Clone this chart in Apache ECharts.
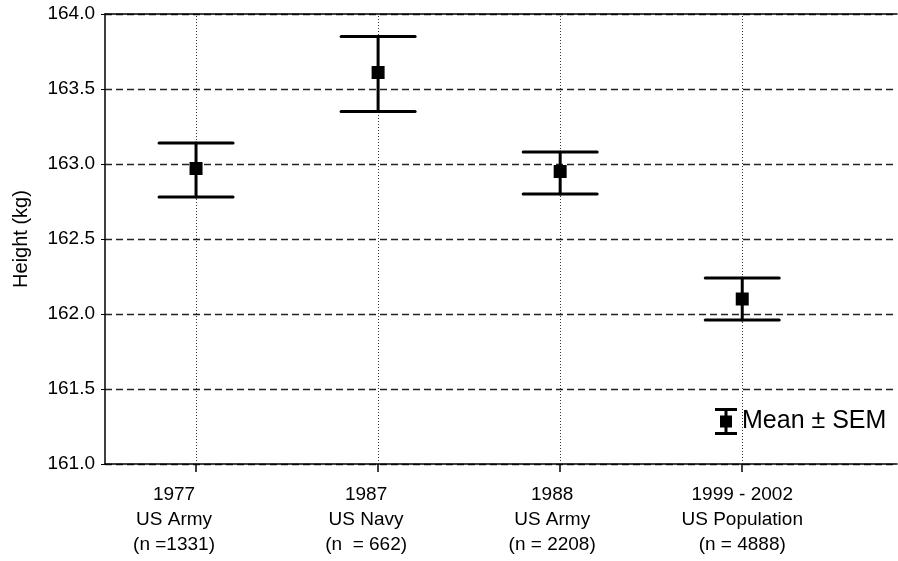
<!DOCTYPE html>
<html>
<head>
<meta charset="utf-8">
<script src="https://cdn.jsdelivr.net/npm/echarts@6/dist/echarts.min.js"></script>
<style>html,body{margin:0;padding:0;background:#fff;}#main{width:898px;height:561px;}</style>
</head>
<body>
<div id="main"></div>
<script>
var categories = ['1977\nUS Army\n(n =1331)', '1987\nUS Navy\n(n  = 662)', '1988\nUS Army\n(n = 2208)', '1999 - 2002\nUS Population\n(n = 4888)'];
var positions = [1, 2, 3, 4];
var means = [162.97, 163.61, 162.95, 162.10];
var upper = [163.14, 163.85, 163.08, 162.24];
var lower = [162.78, 163.35, 162.80, 161.96];

var FONT = '"Liberation Sans", Arial, sans-serif';
// styling: how far (px) each category label block sits left of its tick in the original
var labelShiftPx = [22, 12, 8, 0];

var chart = echarts.init(document.getElementById('main'), null, {renderer: 'canvas'});

var errData = positions.map(function (p, i) { return [p, lower[i], upper[i]]; });
var meanData = positions.map(function (p, i) { return [p, means[i]]; });

var rich = {};
labelShiftPx.forEach(function (s, i) {
  rich['r' + i] = {fontFamily: FONT, fontSize: 19, lineHeight: 25, color: '#000', padding: [0, 2 * s, 0, 0]};
});

var option = {
  backgroundColor: '#fff',
  animation: false,
  grid: {left: 105, right: 1, top: 14, bottom: 97},
  legend: {
    left: 710, top: 403,
    itemWidth: 22, itemHeight: 27, itemGap: 10,
    textStyle: {fontFamily: FONT, fontSize: 25, color: '#000'},
    data: [{name: 'Mean \u00b1 SEM', icon: 'path://M0,0H22V3H0Z M9.5,0H12.5V27H9.5Z M0,24H22V27H0Z M5,7.5H17V19.5H5Z', itemStyle: {color: '#000'}}]
  },
  xAxis: [{
    type: 'value', min: 0.5, max: 4.85,
    axisLine: {show: true, lineStyle: {color: '#000', width: 1.5}},
    axisTick: {show: true, length: 8, customValues: positions, lineStyle: {color: '#000', width: 1.5}},
    axisLabel: {
      customValues: positions,
      margin: 18,
      fontFamily: FONT, fontSize: 19, color: '#000', lineHeight: 25, align: 'center',
      rich: rich,
      formatter: function (v) {
        var i = positions.indexOf(v);
        if (i < 0) return '';
        return categories[i].split('\n').map(function (l) { return '{r' + i + '|' + l + '}'; }).join('\n');
      }
    },
    splitLine: {show: false}
  }, {
    type: 'value', position: 'top', min: 0.5, max: 4.85,
    axisLine: {show: true, onZero: false, lineStyle: {color: '#000', width: 1.5}},
    axisTick: {show: false}, axisLabel: {show: false}, splitLine: {show: false}
  }],
  yAxis: {
    type: 'value', min: 161, max: 164, interval: 0.5,
    name: 'Height (kg)', nameLocation: 'middle', nameGap: 74, nameRotate: 90,
    nameTextStyle: {fontFamily: FONT, fontSize: 20, color: '#000'},
    axisLine: {show: true, lineStyle: {color: '#000', width: 1.5}},
    axisTick: {show: true, length: 4, lineStyle: {color: '#000', width: 1}},
    axisLabel: {margin: 10, fontFamily: FONT, fontSize: 19, color: '#000', formatter: function (v) { return v.toFixed(1); }},
    splitLine: {show: true, lineStyle: {color: '#222', width: 1.3, type: [7, 4]}}
  },
  series: [{
    type: 'custom',
    name: 'err',
    data: errData,
    z: 3,
    renderItem: function (params, api) {
      var x = api.value(0);
      var lo = api.coord([x, api.value(1)]);
      var hi = api.coord([x, api.value(2)]);
      var hw = 37;
      var st = {stroke: '#000', lineWidth: 3, lineCap: 'round'};
      return {
        type: 'group',
        children: [
          {type: 'line', shape: {x1: lo[0], y1: lo[1], x2: hi[0], y2: hi[1]}, style: st},
          {type: 'line', shape: {x1: hi[0] - hw, y1: hi[1], x2: hi[0] + hw, y2: hi[1]}, style: st},
          {type: 'line', shape: {x1: lo[0] - hw, y1: lo[1], x2: lo[0] + hw, y2: lo[1]}, style: st}
        ]
      };
    }
  }, {
    type: 'scatter',
    name: 'Mean \u00b1 SEM',
    data: meanData,
    symbol: 'rect',
    symbolSize: 13,
    z: 4,
    itemStyle: {color: '#000', opacity: 1},
    markLine: {
      silent: true, symbol: 'none', z: 1,
      label: {show: false},
      lineStyle: {color: '#333', width: 1, type: [1, 2]},
      data: positions.map(function (p) { return {xAxis: p}; })
    }
  }]
};
chart.setOption(option);
</script>
</body>
</html>
